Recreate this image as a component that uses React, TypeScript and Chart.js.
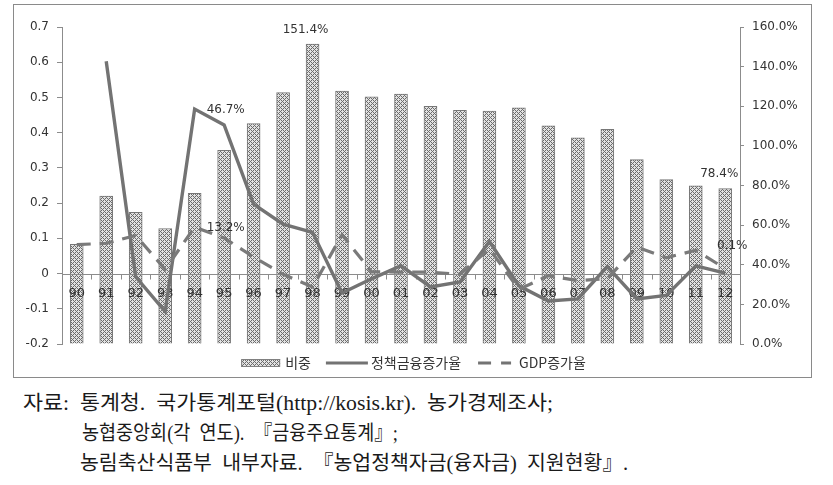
import React, { useEffect, useRef } from "react";
import { Chart, registerables } from "chart.js";

Chart.register(...registerables);

// ---------- data ----------
const categories = ["90", "91", "92", "93", "94", "95", "96", "97", "98", "99", "00", "01", "02", "03", "04", "05", "06", "07", "08", "09", "10", "11", "12"];

// 비중 (%), right axis
const shareValues = [50.3, 74.6, 66.4, 58.3, 76.0, 97.7, 111.3, 126.9, 151.4, 127.6, 124.7, 126.2, 120.0, 118.0, 117.5, 119.2, 110.1, 104.0, 108.4, 93.1, 83.0, 79.8, 78.4];

// 정책금융증가율, left axis
const policyFinanceGrowth = [null, 0.603, -0.009, -0.108, 0.467, 0.422, 0.197, 0.14, 0.117, -0.055, -0.015, 0.022, -0.038, -0.024, 0.091, -0.035, -0.078, -0.072, 0.02, -0.072, -0.062, 0.022, 0.001];

// GDP증가율, left axis
const gdpGrowth = [0.082, 0.086, 0.108, 0.012, 0.132, 0.101, 0.047, -0.002, -0.038, 0.11, 0.005, 0.004, 0.004, -0.002, 0.07, -0.045, -0.006, -0.02, -0.014, 0.075, 0.045, 0.066, 0.014];

const leftAxis = { min: -0.2, max: 0.7, step: 0.1 };
const rightAxis = { min: 0, max: 160, step: 20 };

const seriesNames = ["비중", "정책금융증가율", "GDP증가율"];

const footnoteLines = [
  "자료:  통계청.  국가통계포털(http://kosis.kr).  농가경제조사;",
  "농협중앙회(각  연도).  『금융주요통계』;",
  "농림축산식품부  내부자료.  『농업정책자금(융자금)  지원현황』.",
];

// ---------- helpers ----------
function makePattern(ctx: CanvasRenderingContext2D) {
  const c = document.createElement("canvas");
  c.width = 4;
  c.height = 4;
  const p = c.getContext("2d")!;
  p.fillStyle = "#e2e2e2";
  p.fillRect(0, 0, 4, 4);
  p.fillStyle = "#6c6c6c";
  for (let x = 0; x < 4; x++) {
    for (let y = 0; y < 4; y++) {
      if ((x + y) % 4 === 0 || (x - y + 8) % 4 === 0) p.fillRect(x, y, 1, 1);
    }
  }
  return ctx.createPattern(c, "repeat")!;
}

const pct = (v: number) => (v * 100).toFixed(1) + "%";

export default function App() {
  const canvasRef = useRef<HTMLCanvasElement>(null);
  const lineRefs = useRef<(HTMLDivElement | null)[]>([]);

  useEffect(() => {
    const canvas = canvasRef.current!;
    const ctx = canvas.getContext("2d")!;
    const pattern = makePattern(ctx);
    const axisColor = "#8c8c8c";
    const textColor = "#333333";
    Chart.defaults.font.family = '"DejaVu Sans", sans-serif';

    const dataLabels = [
      { ds: 0, i: 8, text: shareValues[8].toFixed(1) + "%", dx: -7, dy: -8, align: "center" },
      { ds: 0, i: 22, text: shareValues[22].toFixed(1) + "%", dx: -6, dy: -9, align: "center" },
      { ds: 1, i: 4, text: pct(policyFinanceGrowth[4] as number), dx: 12, dy: 1, align: "left" },
      { ds: 2, i: 4, text: pct(gdpGrowth[4]), dx: 12, dy: 1, align: "left" },
      { ds: 1, i: 22, text: pct(policyFinanceGrowth[22] as number), dx: 7, dy: -27, align: "center" },
    ];

    const labelPlugin = {
      id: "customLabels",
      afterDatasetDraw(chart: any, args: any) {
        // category axis drawn at y = 0, over the bars but under the lines
        if (args.index !== 0) return;
        const c = chart.ctx as CanvasRenderingContext2D;
        const xs = chart.scales.x;
        const ys = chart.scales.y;
        const { left, right } = chart.chartArea;
        const y0 = Math.round(ys.getPixelForValue(0)) + 0.5;
        c.save();
        c.strokeStyle = axisColor;
        c.lineWidth = 1;
        c.beginPath();
        c.moveTo(left, y0);
        c.lineTo(right, y0);
        const n = categories.length;
        const step = (right - left) / n;
        for (let i = 0; i <= n; i++) {
          const bx = Math.round(left + i * step) + 0.5;
          c.moveTo(bx, y0);
          c.lineTo(bx, y0 + 5);
        }
        c.stroke();
        c.font = '13px "DejaVu Sans"';
        c.fillStyle = textColor;
        c.textAlign = "center";
        c.textBaseline = "middle";
        for (let i = 0; i < n; i++) {
          c.fillText(categories[i], xs.getPixelForTick(i), y0 + 19);
        }
        c.restore();
      },
      afterDatasetsDraw(chart: any) {
        const c = chart.ctx as CanvasRenderingContext2D;
        c.save();
        c.font = '12px "DejaVu Sans"';
        c.fillStyle = textColor;
        for (const l of dataLabels) {
          const el = chart.getDatasetMeta(l.ds).data[l.i];
          c.textAlign = l.align as CanvasTextAlign;
          c.textBaseline = l.ds === 0 ? "bottom" : "middle";
          c.fillText(l.text, el.x + l.dx, el.y + l.dy);
        }
        c.restore();
      },
      afterDraw(chart: any) {
        const c = chart.ctx as CanvasRenderingContext2D;
        c.save();
        c.font = '14px "Noto Sans CJK KR"';
        c.textBaseline = "middle";
        c.fillStyle = textColor;
        const y = chart.height - 14;
        const boxW = 39, lineW = 42, dashW = 33;
        const w0 = c.measureText(seriesNames[0]).width;
        const w1 = c.measureText(seriesNames[1]).width;
        const w2 = c.measureText(seriesNames[2]).width;
        const total = boxW + 5 + w0 + 15 + lineW + 3 + w1 + 17 + dashW + 8 + w2;
        let x = chart.width / 2 - total / 2 + 1;
        // bar swatch
        c.fillStyle = pattern;
        c.fillRect(x, y - 4, boxW, 8);
        c.strokeStyle = "#808080";
        c.lineWidth = 1;
        c.strokeRect(x + 0.5, y - 3.5, boxW - 1, 7);
        x += boxW + 5;
        c.fillStyle = textColor;
        c.fillText(seriesNames[0], x, y);
        x += w0 + 15;
        // solid line swatch
        c.strokeStyle = "#737373";
        c.lineWidth = 3;
        c.beginPath();
        c.moveTo(x, y);
        c.lineTo(x + lineW, y);
        c.stroke();
        x += lineW + 3;
        c.fillText(seriesNames[1], x, y);
        x += w1 + 17;
        // dashed swatch
        c.setLineDash([13, 10]);
        c.beginPath();
        c.moveTo(x, y);
        c.lineTo(x + dashW, y);
        c.stroke();
        c.setLineDash([]);
        x += dashW + 8;
        c.fillText(seriesNames[2], x, y);
        c.restore();
      },
    };

    const chart = new Chart(ctx, {
      type: "bar",
      data: {
        labels: categories,
        datasets: [
          {
            type: "bar",
            label: seriesNames[0],
            data: shareValues,
            yAxisID: "y1",
            backgroundColor: pattern as any,
            borderColor: "#777777",
            borderWidth: 1,
            barThickness: 13,
            order: 10,
          },
          {
            type: "line",
            label: seriesNames[1],
            data: policyFinanceGrowth as any,
            yAxisID: "y",
            borderColor: "#737373",
            borderWidth: 3.4,
            pointRadius: 0,
            tension: 0,
            fill: false,
            order: 2,
          },
          {
            type: "line",
            label: seriesNames[2],
            data: gdpGrowth,
            yAxisID: "y",
            borderColor: "#7a7a7a",
            borderWidth: 3.2,
            borderDash: [14, 9],
            pointRadius: 0,
            tension: 0,
            fill: false,
            order: 1,
          },
        ],
      },
      options: {
        animation: false,
        responsive: false,
        events: [],
        layout: { padding: { top: 22, bottom: 33, left: 0, right: 0 } },
        plugins: { legend: { display: false }, tooltip: { enabled: false } },
        scales: {
          x: {
            type: "category",
            display: false,
            offset: true,
            grid: { offset: true },
          },
          y: {
            position: "left",
            min: leftAxis.min,
            max: leftAxis.max,
            ticks: {
              stepSize: leftAxis.step,
              padding: 8,
              color: textColor,
              font: { size: 12 },
              callback: (v: any) => String(Math.round(Number(v) * 10) / 10),
            },
            grid: { drawOnChartArea: false, drawTicks: true, tickLength: 5, color: axisColor },
            border: { display: true, color: axisColor },
            afterFit: (s: any) => {
              s.width = 48;
            },
          },
          y1: {
            position: "right",
            min: rightAxis.min,
            max: rightAxis.max,
            ticks: {
              stepSize: rightAxis.step,
              padding: 8,
              color: textColor,
              font: { size: 12 },
              callback: (v: any) => Number(v).toFixed(1) + "%",
            },
            grid: { drawOnChartArea: false, drawTicks: true, tickLength: 4, color: axisColor },
            border: { display: true, color: axisColor },
            afterFit: (s: any) => {
              s.width = 71;
            },
          },
        },
      },
      plugins: [labelPlugin],
    });
    return () => chart.destroy();
  }, []);

  useEffect(() => {
    const targets = [530, 316, 548];
    lineRefs.current.forEach((el, i) => {
      if (!el) return;
      const w = el.getBoundingClientRect().width;
      if (w > 0) el.style.transform = `scaleX(${targets[i] / w})`;
    });
  }, []);

  const lineTops = [391, 421, 451];
  const lineLefts = [23, 82, 80];

  return (
    <div style={{ position: "absolute", left: 0, top: 0, width: 833, height: 485, background: "#fff", overflow: "hidden" }}>
      <div style={{ position: "absolute", left: 13, top: 4, width: 797, height: 372, border: "1px solid #8a8a8a" }}>
        <canvas ref={canvasRef} width={797} height={372} style={{ display: "block", width: 797, height: 372 }} />
      </div>
      {footnoteLines.map((t, i) => (
        <div
          key={i}
          ref={(el) => {
            lineRefs.current[i] = el;
          }}
          style={{
            position: "absolute",
            left: lineLefts[i],
            top: lineTops[i],
            whiteSpace: "pre",
            fontFamily: '"Liberation Serif", "Noto Sans CJK KR", serif',
            fontSize: 20,
            lineHeight: "24px",
            color: "#1a1a1a",
            transformOrigin: "left center",
          }}
        >
          {t}
        </div>
      ))}
    </div>
  );
}
